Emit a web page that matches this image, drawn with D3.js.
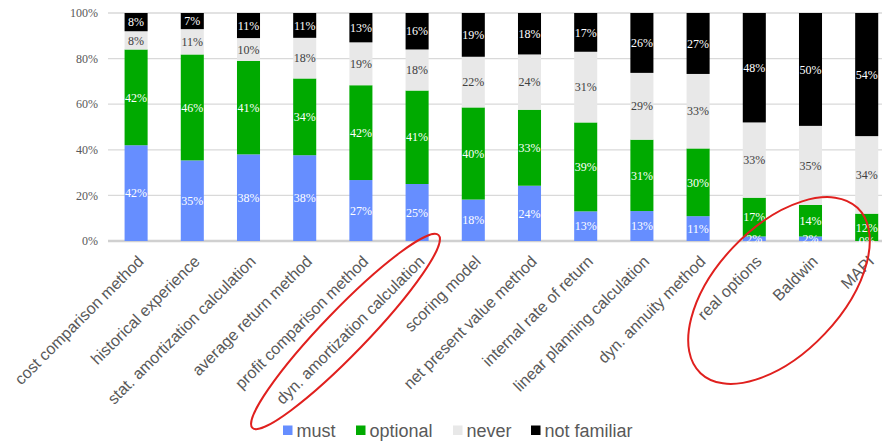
<!DOCTYPE html>
<html><head><meta charset="utf-8">
<script src="https://cdn.jsdelivr.net/npm/d3@7"></script>
<style>
body{margin:0;background:#fff}svg{display:block}
.serif{font-family:"Liberation Serif","Times New Roman",serif;font-size:12px}
.sans{font-family:"Liberation Sans",Arial,sans-serif}
</style>
</head><body>
<svg id="c" width="885" height="443"></svg>
<script>
const categories = ["cost comparison method","historical experience","stat. amortization calculation","average return method","profit comparison method","dyn. amortization calculation","scoring model","net present value method","internal rate of return","linear planning calculation","dyn. annuity method","real options","Baldwin","MAPI"];
const must        = [42,35,38,38,27,25,18,24,13,13,11,2,2,0];
const optional    = [42,46,41,34,42,41,40,33,39,31,30,17,14,12];
const never       = [8,11,10,18,19,18,22,24,31,29,33,33,35,34];
const notFamiliar = [8,7,11,11,13,16,19,18,17,26,27,48,50,54];
const seriesNames = ["must","optional","never","not familiar"];
const yTicks = [0,0.2,0.4,0.6,0.8,1];

const colors = {"must":"#668EFF","optional":"#00AA00","never":"#E8E8E8","not familiar":"#000000"};
const labelColors = {"must":"#ffffff","optional":"#ffffff","never":"#404040","not familiar":"#ffffff"};

const rows = categories.map((c,i)=>({cat:c,"must":must[i],"optional":optional[i],"never":never[i],"not familiar":notFamiliar[i]}));
const stack = d3.stack().keys(seriesNames).offset(d3.stackOffsetExpand)(rows);

const svg = d3.select("#c");
const x = d3.scaleBand().domain(categories).range([108, 894.8]).paddingInner(0.59).paddingOuter(0.295);
const y = d3.scaleLinear().domain([0,1]).range([241, 13]);

// gridlines
svg.append("g").selectAll("line").data(yTicks).join("line")
  .attr("x1",108).attr("x2",882)
  .attr("y1",d=>y(d)).attr("y2",d=>y(d))
  .attr("stroke", d=> d===0 ? "#d0d0d0" : "#d9d9d9")
  .attr("stroke-width", d=> d===0 ? 2.5 : 1.3);

// y tick labels
svg.append("g").selectAll("text").data(yTicks).join("text")
  .attr("class","serif")
  .attr("x",98).attr("y",d=>y(d)).attr("dy","0.35em")
  .attr("text-anchor","end")
  .attr("fill","#595959")
  .text(d=>d3.format(".0%")(d));

// bars
const g = svg.append("g");
stack.forEach(s=>{
  const key = s.key;
  g.append("g").selectAll("rect").data(s).join("rect")
    .attr("x",d=>x(d.data.cat)).attr("width",x.bandwidth())
    .attr("y",d=>y(d[1])).attr("height",d=>y(d[0])-y(d[1]))
    .attr("fill",colors[key]);
});
stack.forEach(s=>{
  const key = s.key;
  g.append("g").selectAll("text").data(s).join("text")
    .attr("class","serif")
    .attr("x",d=>x(d.data.cat)+x.bandwidth()/2)
    .attr("y",d=>(y(d[0])+y(d[1]))/2).attr("dy","0.35em")
    .attr("text-anchor","middle")
    .attr("fill",labelColors[key])
    .text(d=>d.data[key]+"%");
});

// x labels
svg.append("g").selectAll("text").data(categories).join("text")
  .attr("class","sans")
  .attr("transform",d=>`translate(${x(d)+x.bandwidth()/2+4.5},258.5) rotate(-45)`)
  .attr("text-anchor","end").attr("dominant-baseline","central")
  .attr("font-size",16).attr("fill","#595959")
  .text(d=>d);

// legend
const legendX = [283,356,453,531];
const lg = svg.append("g");
seriesNames.forEach((n,i)=>{
  lg.append("rect").attr("x",legendX[i]).attr("y",425.5).attr("width",9.5).attr("height",9.5).attr("fill",colors[n]);
  lg.append("text").attr("class","sans").attr("x",legendX[i]+13.5).attr("y",436.5)
    .attr("font-size",18).attr("fill","#595959").text(n);
});

// red annotation ellipses
svg.append("ellipse").attr("cx",345.5).attr("cy",331.5).attr("rx",134).attr("ry",22)
  .attr("transform","rotate(-46 345.5 331.5)")
  .attr("fill","none").attr("stroke","#E0201E").attr("stroke-width",2);
svg.append("ellipse").attr("cx",779).attr("cy",290.5).attr("rx",114).attr("ry",63)
  .attr("transform","rotate(-46.5 779 290.5)")
  .attr("fill","none").attr("stroke","#E0201E").attr("stroke-width",2);
</script>
</body></html>
